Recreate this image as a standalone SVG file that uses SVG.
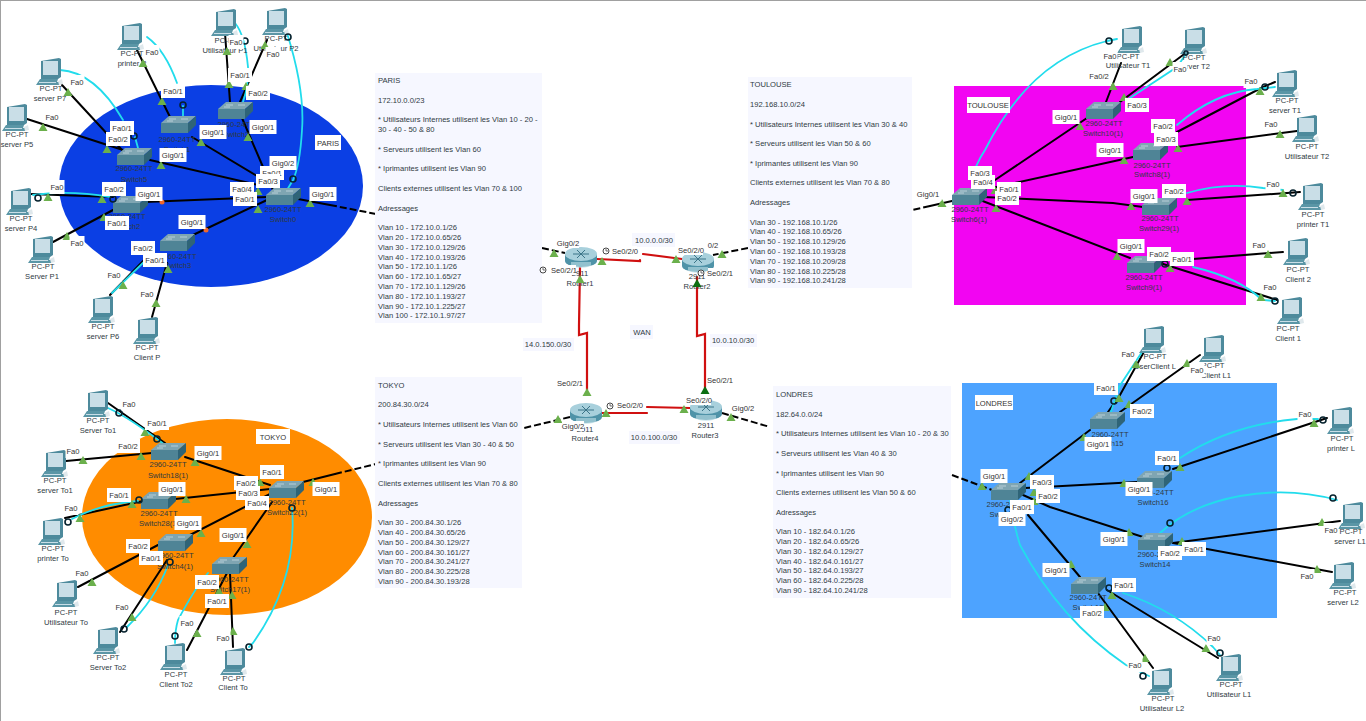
<svg xmlns="http://www.w3.org/2000/svg" width="1366" height="721" viewBox="0 0 1366 721">
<style>
text{font-family:"Liberation Sans",Arial,sans-serif;font-size:7.6px;fill:#2f3a3f}
.n text{text-anchor:middle}
.p{fill:#f6f7ff}
.k,.c,.r,.d{fill:none;stroke-linecap:round}
.k{stroke:#000;stroke-width:2}
.d{stroke:#000;stroke-width:2;stroke-dasharray:7 3;stroke-linecap:butt}
.c{stroke:#22dcec;stroke-width:1.8}
.r{stroke:#d01010;stroke-width:2.2}
.o{fill:none;stroke:#06222e;stroke-width:1.6}
.ls text{text-anchor:middle;fill:#333}
.w{fill:#fff}
</style>
<defs>
<g id="pc">
<polygon points="5,3 23,0 25,1 25,19 22,21 5,21" fill="#4d8a9c"/>
<rect x="7" y="3" width="15" height="14" fill="#c9dee7"/>
<polygon points="4,21 22,21 21,24 25,24 23,27 0,27" fill="#5a96a6"/>
<rect x="3" y="24" width="17" height="1" fill="#c9dee7"/>
<polygon points="22,23 26,21 27,26 23,27" fill="#dfe8ec"/>
</g>
<g id="sw">
<polygon points="0,7 8,0 35,0 27,7" fill="#7fa5b2"/>
<rect x="0" y="7" width="27" height="10" fill="#4f8496"/>
<polygon points="27,7 35,0 35,9 27,17" fill="#2f6477"/>
<path d="M8 3h7M20 3h7M6 5h6" stroke="#d3e2e8" stroke-width=".7" fill="none"/>
</g>
<g id="rt">
<path d="M0 7v7a16 6 0 0 0 32 0v-7z" fill="#4f93a8"/>
<ellipse cx="16" cy="7" rx="16" ry="7" fill="#a8d0dc"/>
<path d="M8 7h16M12 3l8 8M20 3l-8 8" stroke="#3b7488" stroke-width="1" fill="none"/>
<path d="M6 15h20v3a10 3 0 0 1-20 0z" fill="#bfe0e8" opacity=".6"/>
</g>
<polygon id="t" points="-4.5,4 4.5,4 0,-4" fill="#6bb04c"/>
<polygon id="td" points="-4.5,4 4.5,4 0,-4" fill="#0c6e12"/>
<g id="ck"><circle r="3" fill="#fff" stroke="#333" stroke-width=".9"/><path d="M0 -2V0H2" stroke="#333" stroke-width=".7" fill="none"/></g>
<rect id="a" class="w" x="-7.5" y="-7" width="15" height="14"/>
<rect id="b" class="w" x="-12" y="-7" width="24" height="14"/>
<rect id="g" class="w" x="-13.5" y="-7" width="27" height="14"/>
</defs>

<rect width="1366" height="721" fill="#fff"/>
<path d="M0 .5H1366M.5 0V721" stroke="#a0a0a0" fill="none"/>

<g id="areas">
<ellipse cx="211" cy="186" rx="152" ry="101" fill="#0b3fe4"/>
<ellipse cx="227" cy="517" rx="145" ry="98" fill="#ff8c00"/>
<rect x="954" y="86" width="292" height="219" fill="#f205f2"/>
<rect x="962" y="383" width="315" height="235" fill="#4da3ff"/>
</g>

<g id="connectors">
<!-- Paris -->
<path class="k" d="M136 48L170 117M62 85L122 150M27 119L123 150M150 160L267 187M192 137L267 182M242 118L263 167L273 190"/>
<path class="k" d="M225 33L230 102M267 40L240 102M30 194L113 197M145 202L267 197M53 242L113 210M193 235L267 200M147 257L110 295M167 263L152 317"/>
<path class="k" d="M298 199L330 205"/><path class="d" d="M330 205L376 214M542 248L565 253"/>
<path class="c" d="M147 37Q165 50 177 83M183 106V116M60 70Q95 72 123 120M135 137L138 148M235 23Q245 35 248 67Q249 85 243 102M287 33Q305 90 302 130Q300 165 293 180L287 190M33 195Q70 190 110 197M147 259L112 293"/>
<!-- Tokyo -->
<path class="k" d="M108 403L165 443M66 461L120 456L152 453M185 457L270 485M65 518L143 501M175 499L270 489M190 535L272 493M233 558L272 502M78 587L158 545M167 560L120 632M227 573L187 650M230 573L233 647"/>
<path class="c" d="M108 408Q130 418 165 445M72 519Q100 504 138 501M292 508Q298 580 253 643L249 647M168 565Q155 600 127 627M208 573Q195 588 178 620Q175 630 175 643"/>
<path class="k" d="M303 482L335 474"/><path class="d" d="M335 474L376 464M570 417L520 429"/>
<!-- Toulouse -->
<path class="k" d="M995 180L1087 118M992 188L1133 157M983 197L1113 203L1143 207M980 200L1130 258M1121 63L1106 102M1120 102L1187 52M1177 132L1263 87L1275 82M1177 147L1297 131M1187 200L1287 193L1300 192M1193 259L1283 252M1160 263L1277 300"/>
<path class="c" d="M972 188V180Q975 165 985 150Q1030 60 1107 41L1117 39M1130 98L1177 67L1186 54M1177 125Q1215 92 1257 89L1275 87M1187 193Q1225 182 1263 188L1283 190M1193 267Q1240 278 1262 300L1275 301"/>
<path class="k" d="M952 201L930 206"/><path class="d" d="M930 206L912 210M748 248L713 255"/>
<!-- Londres -->
<path class="k" d="M1020 483L1090 430M1108 412L1120 395L1145 350M1120 412L1200 355M1025 488L1137 482M1173 469L1327 418M1023 495L1050 507L1143 537M1173 543L1340 521M1173 543L1207 549L1332 572M1028 515L1080 577M1107 590L1218 658M1098 593L1153 668"/>
<path class="c" d="M1111 412L1119 387L1142 352M1180 458Q1230 425 1297 419L1318 419M1160 533Q1190 505 1240 496Q1290 487 1337 500M1123 593Q1175 610 1213 647L1220 655M1010 500Q1015 530 1020 545Q1060 620 1126 665L1149 676"/>
<path class="d" d="M952 475L992 490M722 413L770 427"/>
<!-- WAN -->
<path class="r" d="M597 259L640 261V260M643 254L682 259M580 267L579 325V335L587 333V390M697 277V336L705 334V390M602 413H647M647 407L690 408"/>
</g>

<g id="panels">
<rect class="p" x="375" y="73" width="167" height="250"/>
<rect class="p" x="748" y="77" width="164" height="211"/>
<rect class="p" x="375" y="377" width="147" height="211"/>
<rect class="p" x="773" y="386" width="178" height="212"/>
<rect class="p" x="632" y="233" width="43" height="14"/>
<rect class="p" x="630" y="325" width="23" height="14"/>
<rect class="p" x="523" y="338" width="51" height="13"/>
<rect class="p" x="710" y="334" width="47" height="13"/>
<rect class="p" x="629" y="431" width="51" height="13"/>
</g>

<g id="text-paris">
<text x="378" y="83">PARIS</text><text x="378" y="103">172.10.0.0/23</text>
<text x="378" y="122">* Utilisateurs Internes utilisent les Vlan 10 - 20 -</text><text x="378" y="132">30 - 40 - 50 &amp; 80</text>
<text x="378" y="152">* Serveurs utilisent les Vlan 60</text><text x="378" y="171">* Iprimantes utilisent les Vlan 90</text>
<text x="378" y="191">Clients externes utilisent les Vlan 70 &amp; 100</text><text x="378" y="211">Adressages</text>
<text x="378" y="230">Vlan 10 - 172.10.0.1/26</text><text x="378" y="240">Vlan 20 - 172.10.0.65/26</text>
<text x="378" y="250">Vlan 30 - 172.10.0.129/26</text><text x="378" y="260">Vlan 40 - 172.10.0.193/26</text>
<text x="378" y="269">Vlan 50 - 172.10.1.1/26</text><text x="378" y="279">Vlan 60 - 172.10.1.65/27</text>
<text x="378" y="289">Vlan 70 - 172.10.1.129/26</text><text x="378" y="299">Vlan 80 - 172.10.1.193/27</text>
<text x="378" y="309">Vlan 90 - 172.10.1.225/27</text><text x="378" y="318">Vlan 100 - 172.10.1.97/27</text>
</g>
<g id="text-toulouse">
<text x="750" y="87">TOULOUSE</text><text x="750" y="107">192.168.10.0/24</text>
<text x="750" y="127">* Utilisateurs Internes utilisent les Vlan 30 &amp; 40</text><text x="750" y="146">* Serveurs utilisent les Vlan 50 &amp; 60</text>
<text x="750" y="166">* Iprimantes utilisent les Vlan 90</text><text x="750" y="185">Clients externes utilisent les Vlan 70 &amp; 80</text>
<text x="750" y="205">Adressages</text>
<text x="750" y="225">Vlan 30 - 192.168.10.1/26</text><text x="750" y="234">Vlan 40 - 192.168.10.65/26</text>
<text x="750" y="244">Vlan 50 - 192.168.10.129/26</text><text x="750" y="254">Vlan 60 - 192.168.10.193/28</text>
<text x="750" y="264">Vlan 70 - 192.168.10.209/28</text><text x="750" y="274">Vlan 80 - 192.168.10.225/28</text>
<text x="750" y="283">Vlan 90 - 192.168.10.241/28</text>
</g>
<g id="text-tokyo">
<text x="378" y="388">TOKYO</text><text x="378" y="407">200.84.30.0/24</text>
<text x="378" y="427">* Utilisateurs Internes utilisent les Vlan 60</text><text x="378" y="447">* Serveurs utilisent les Vlan 30 - 40 &amp; 50</text>
<text x="378" y="466">* Iprimantes utilisent les Vlan 90</text><text x="378" y="486">Clients externes utilisent les Vlan 70 &amp; 80</text>
<text x="378" y="506">Adressages</text>
<text x="378" y="525">Vlan 30 - 200.84.30.1/26</text><text x="378" y="535">Vlan 40 - 200.84.30.65/26</text>
<text x="378" y="545">Vlan 50 - 200.84.30.129/27</text><text x="378" y="555">Vlan 60 - 200.84.30.161/27</text>
<text x="378" y="564">Vlan 70 - 200.84.30.241/27</text><text x="378" y="574">Vlan 80 - 200.84.30.225/28</text>
<text x="378" y="584">Vlan 90 - 200.84.30.193/28</text>
</g>
<g id="text-londres">
<text x="776" y="397">LONDRES</text><text x="776" y="417">182.64.0.0/24</text>
<text x="776" y="436">* Utilisateurs Internes utilisent les Vlan 10 - 20 &amp; 30</text><text x="776" y="456">* Serveurs utilisent les Vlan 40 &amp; 30</text>
<text x="776" y="476">* Iprimantes utilisent les Vlan 90</text><text x="776" y="495">Clients externes utilisent les Vlan 50 &amp; 60</text>
<text x="776" y="515">Adressages</text>
<text x="776" y="534">Vlan 10 - 182.64.0.1/26</text><text x="776" y="544">Vlan 20 - 182.64.0.65/26</text>
<text x="776" y="554">Vlan 30 - 182.64.0.129/27</text><text x="776" y="564">Vlan 40 - 182.64.0.161/27</text>
<text x="776" y="573">Vlan 50 - 182.64.0.193/27</text><text x="776" y="583">Vlan 60 - 182.64.0.225/28</text>
<text x="776" y="593">Vlan 90 - 182.64.10.241/28</text>
</g>
<g id="text-wan" class="n">
<text x="654" y="243">10.0.0.0/30</text><text x="642" y="335">WAN</text><text x="548" y="347">14.0.150.0/30</text><text x="733" y="343">10.0.10.0/30</text><text x="654" y="440">10.0.100.0/30</text>
</g>

<g id="nodes" class="n">
<!-- Paris -->
<g id="printer-p"><use href="#pc" x="117" y="23"/><text x="132" y="56">PC-PT</text><text x="132" y="66">printer P</text></g>
<g id="server-p7"><use href="#pc" x="36" y="58"/><text x="51" y="91">PC-PT</text><text x="50" y="101">server P7</text></g>
<g id="server-p5"><use href="#pc" x="2" y="104"/><text x="17" y="137">PC-PT</text><text x="17" y="147">server P5</text></g>
<g id="server-p4"><use href="#pc" x="6" y="188"/><text x="21" y="221">PC-PT</text><text x="21" y="231">server P4</text></g>
<g id="server-p1"><use href="#pc" x="28" y="236"/><text x="43" y="269">PC-PT</text><text x="42" y="279">Server P1</text></g>
<g id="server-p6"><use href="#pc" x="88" y="296"/><text x="103" y="329">PC-PT</text><text x="103" y="339">server P6</text></g>
<g id="client-p"><use href="#pc" x="133" y="317"/><text x="147" y="350">PC-PT</text><text x="147" y="360">Client P</text></g>
<g id="utilisateur-p1"><use href="#pc" x="211" y="9"/><text x="226" y="43">PC-PT</text><text x="225" y="53">Utilisateur P1</text></g>
<g id="utilisateur-p2"><use href="#pc" x="262" y="8"/><text x="276" y="41">PC-PT</text><text x="276" y="51">Utilisateur P2</text></g>
<g id="switch1"><use href="#sw" x="161" y="116"/><text x="177" y="142">2960-24TT</text><text x="177" y="152">Switch1</text></g>
<g id="switch7"><use href="#sw" x="218" y="102"/><text x="236" y="127">2960-24TT</text><text x="236" y="137">Switch2</text></g>
<g id="switch5"><use href="#sw" x="117" y="148"/><text x="134" y="171">2960-24TT</text><text x="134" y="182">Switch5</text></g>
<g id="switch2"><use href="#sw" x="113" y="196"/><text x="127" y="219">2960-24TT</text><text x="127" y="229">Switch2</text></g>
<g id="switch3"><use href="#sw" x="160" y="234"/><text x="178" y="259">2960-24TT</text><text x="178" y="268">Switch3</text></g>
<g id="switch0"><use href="#sw" x="266" y="188"/><text x="283" y="212">2960-24TT</text><text x="283" y="222">Switch0</text></g>
<!-- Toulouse -->
<g id="utilisateur-t1"><use href="#pc" x="1117" y="26"/><text x="1128" y="59">PC-PT</text><text x="1128" y="68">Utilisateur T1</text></g>
<g id="server-t2"><use href="#pc" x="1180" y="27"/><text x="1194" y="60">PC-PT</text><text x="1194" y="69">server T2</text></g>
<g id="server-t1"><use href="#pc" x="1272" y="70"/><text x="1287" y="103">PC-PT</text><text x="1285" y="113">server T1</text></g>
<g id="utilisateur-t2"><use href="#pc" x="1292" y="115"/><text x="1307" y="149">PC-PT</text><text x="1307" y="159">Utilisateur T2</text></g>
<g id="printer-t1"><use href="#pc" x="1298" y="183"/><text x="1313" y="217">PC-PT</text><text x="1313" y="227">printer T1</text></g>
<g id="client-2"><use href="#pc" x="1283" y="238"/><text x="1298" y="272">PC-PT</text><text x="1298" y="282">Client 2</text></g>
<g id="client-1"><use href="#pc" x="1277" y="297"/><text x="1288" y="331">PC-PT</text><text x="1288" y="341">Client 1</text></g>
<g id="switch6-1"><use href="#sw" x="952" y="188"/><text x="970" y="212">2960-24TT</text><text x="969" y="222">Switch6(1)</text></g>
<g id="switch10-1"><use href="#sw" x="1086" y="102"/><text x="1104" y="126">2960-24TT</text><text x="1103" y="136">Switch10(1)</text></g>
<g id="switch8-1"><use href="#sw" x="1133" y="143"/><text x="1152" y="168">2960-24TT</text><text x="1152" y="177">Switch8(1)</text></g>
<g id="switch29-1"><use href="#sw" x="1142" y="198"/><text x="1160" y="221">2960-24TT</text><text x="1159" y="231">Switch29(1)</text></g>
<g id="switch9-1"><use href="#sw" x="1127" y="256"/><text x="1144" y="280">2960-24TT</text><text x="1144" y="290">Switch9(1)</text></g>
<!-- Routers -->
<g id="router1"><use href="#rt" x="565" y="247"/><text x="580" y="276">2911</text><text x="580" y="286">Router1</text></g>
<g id="router2"><use href="#rt" x="682" y="252"/><text x="697" y="279">2911</text><text x="697" y="289">Router2</text></g>
<g id="router4"><use href="#rt" x="570" y="403"/><text x="585" y="432">2911</text><text x="585" y="441">Router4</text></g>
<g id="router3"><use href="#rt" x="690" y="400"/><text x="706" y="428">2911</text><text x="705" y="438">Router3</text></g>
<!-- Tokyo -->
<g id="server-to1"><use href="#pc" x="83" y="390"/><text x="98" y="423">PC-PT</text><text x="98" y="433">Server To1</text></g>
<g id="server-to1b"><use href="#pc" x="41" y="450"/><text x="55" y="483">PC-PT</text><text x="55" y="493">server To1</text></g>
<g id="printer-to"><use href="#pc" x="38" y="518"/><text x="53" y="551">PC-PT</text><text x="53" y="561">printer To</text></g>
<g id="utilisateur-to"><use href="#pc" x="52" y="580"/><text x="66" y="615">PC-PT</text><text x="66" y="625">Utilisateur To</text></g>
<g id="server-to2"><use href="#pc" x="93" y="627"/><text x="108" y="660">PC-PT</text><text x="108" y="670">Server To2</text></g>
<g id="client-to2"><use href="#pc" x="160" y="643"/><text x="176" y="677">PC-PT</text><text x="176" y="687">Client To2</text></g>
<g id="client-to"><use href="#pc" x="220" y="648"/><text x="234" y="681">PC-PT</text><text x="233" y="690">Client To</text></g>
<g id="switch18-1"><use href="#sw" x="151" y="443"/><text x="168" y="467">2960-24TT</text><text x="168" y="478">Switch18(1)</text></g>
<g id="switch28"><use href="#sw" x="141" y="492"/><text x="159" y="516">2960-24TT</text><text x="159" y="526">Switch28(1)</text></g>
<g id="switch4-1"><use href="#sw" x="158" y="534"/><text x="175" y="558">2960-24TT</text><text x="175" y="569">Switch4(1)</text></g>
<g id="switch17-1"><use href="#sw" x="212" y="557"/><text x="230" y="582">2960-24TT</text><text x="230" y="592">Switch17(1)</text></g>
<g id="switch22-1"><use href="#sw" x="269" y="481"/><text x="287" y="505">2960-24TT</text><text x="287" y="515">Switch22(1)</text></g>
<!-- Londres -->
<g id="userclient-l"><use href="#pc" x="1139" y="326"/><text x="1155" y="359">PC-PT</text><text x="1155" y="369">UserClient L</text></g>
<g id="client-l1"><use href="#pc" x="1199" y="335"/><text x="1213" y="368">PC-PT</text><text x="1216" y="378">Client L1</text></g>
<g id="printer-l"><use href="#pc" x="1327" y="407"/><text x="1342" y="441">PC-PT</text><text x="1341" y="451">printer L</text></g>
<g id="server-l1"><use href="#pc" x="1338" y="502"/><text x="1351" y="534">PC-PT</text><text x="1350" y="544">server L1</text></g>
<g id="server-l2"><use href="#pc" x="1329" y="562"/><text x="1345" y="595">PC-PT</text><text x="1343" y="605">server L2</text></g>
<g id="utilisateur-l1"><use href="#pc" x="1216" y="654"/><text x="1231" y="687">PC-PT</text><text x="1229" y="697">Utilisateur L1</text></g>
<g id="utilisateur-l2"><use href="#pc" x="1147" y="668"/><text x="1163" y="701">PC-PT</text><text x="1162" y="711">Utilisateur L2</text></g>
<g id="switch12"><use href="#sw" x="991" y="483"/><text x="1005" y="507">2960-24TT</text><text x="1005" y="517">Switch12</text></g>
<g id="switch15"><use href="#sw" x="1090" y="412"/><text x="1110" y="437">2960-24TT</text><text x="1108" y="446">Switch15</text></g>
<g id="switch16"><use href="#sw" x="1137" y="471"/><text x="1155" y="495">2960-24TT</text><text x="1153" y="505">Switch16</text></g>
<g id="switch14"><use href="#sw" x="1138" y="533"/><text x="1156" y="557">2960-24TT</text><text x="1155" y="567">Switch14</text></g>
<g id="switch13"><use href="#sw" x="1071" y="577"/><text x="1088" y="600">2960-24TT</text><text x="1088" y="610">Switch13</text></g>
</g>

<g id="link-lights">
<circle cx="162" cy="202" r="2.5" fill="#f0672b"/><circle cx="206" cy="230" r="2.5" fill="#f0672b"/>
<g class="o">
<circle cx="183" cy="105" r="3"/><circle cx="134" cy="136" r="3"/><circle cx="245" cy="41" r="3"/><circle cx="288" cy="37" r="3"/><circle cx="293" cy="179" r="3"/><circle cx="38" cy="198" r="3"/><circle cx="113" cy="199" r="3"/>
<circle cx="119" cy="413" r="3"/><circle cx="157" cy="439" r="3"/><circle cx="68" cy="522" r="3"/><circle cx="139" cy="500" r="3"/><circle cx="292" cy="508" r="3"/><circle cx="249" cy="647" r="3"/><circle cx="170" cy="562" r="3"/><circle cx="124" cy="629" r="3"/><circle cx="175" cy="636" r="3"/>
<circle cx="1109" cy="41" r="3"/><circle cx="1186" cy="53" r="2"/><circle cx="1265" cy="87" r="3"/><circle cx="1293" cy="193" r="3"/><circle cx="1165" cy="264" r="3"/><circle cx="1275" cy="301" r="3"/>
<circle cx="1114" cy="401" r="3"/><circle cx="1167" cy="468" r="3"/><circle cx="1323" cy="420" r="3"/><circle cx="1170" cy="523" r="3"/><circle cx="1333" cy="498" r="3"/><circle cx="1109" cy="588" r="3"/><circle cx="1220" cy="653" r="3"/><circle cx="1143" cy="676" r="3"/><circle cx="1008" cy="510" r="3"/>
</g>
</g>

<g id="port-markers">
<use href="#t" x="143" y="63"/><use href="#t" x="162" y="101"/><use href="#t" x="68" y="92"/><use href="#t" x="107" y="149"/><use href="#t" x="43" y="127"/><use href="#t" x="161" y="165"/><use href="#t" x="201" y="142"/><use href="#t" x="248" y="137"/><use href="#t" x="227" y="51"/><use href="#t" x="229" y="84"/><use href="#t" x="246" y="86"/><use href="#t" x="265" y="45"/><use href="#t" x="258" y="191"/><use href="#t" x="48" y="197"/><use href="#t" x="102" y="199"/><use href="#t" x="104" y="217"/><use href="#t" x="67" y="236"/><use href="#t" x="258" y="209"/><use href="#t" x="310" y="203"/><use href="#t" x="123" y="285"/><use href="#t" x="156" y="303"/><use href="#t" x="168" y="269"/>
<use href="#t" x="1113" y="86"/><use href="#t" x="1124" y="97"/><use href="#t" x="1170" y="62"/><use href="#t" x="1080" y="126"/><use href="#t" x="1260" y="91"/><use href="#t" x="1178" y="148"/><use href="#t" x="1124" y="160"/><use href="#t" x="1280" y="134"/><use href="#t" x="995" y="190"/><use href="#t" x="996" y="208"/><use href="#t" x="942" y="203"/><use href="#t" x="1131" y="206"/><use href="#t" x="1187" y="201"/><use href="#t" x="1283" y="193"/><use href="#t" x="1117" y="256"/><use href="#t" x="1170" y="268"/><use href="#t" x="1268" y="254"/><use href="#t" x="1261" y="297"/>
<use href="#t" x="554" y="253"/><use href="#t" x="602" y="261"/><use href="#t" x="580" y="279"/><use href="#t" x="676" y="259"/><use href="#t" x="722" y="254"/><use href="#td" x="697" y="283"/><use href="#t" x="587" y="392"/><use href="#td" x="705" y="390"/><use href="#t" x="558" y="419"/><use href="#t" x="606" y="413"/><use href="#t" x="684" y="409"/><use href="#t" x="731" y="417"/>
<use href="#t" x="145" y="432"/><use href="#t" x="83" y="460"/><use href="#t" x="141" y="456"/><use href="#t" x="195" y="462"/><use href="#t" x="260" y="482"/><use href="#t" x="313" y="482"/><use href="#t" x="132" y="504"/><use href="#t" x="80" y="518"/><use href="#t" x="186" y="499"/><use href="#t" x="201" y="533"/><use href="#t" x="92" y="582"/><use href="#t" x="247" y="544"/><use href="#t" x="132" y="617"/><use href="#t" x="197" y="633"/><use href="#t" x="233" y="631"/><use href="#t" x="219" y="591"/><use href="#t" x="232" y="595"/>
<use href="#t" x="1136" y="364"/><use href="#t" x="1187" y="363"/><use href="#t" x="1119" y="398"/><use href="#t" x="1129" y="404"/><use href="#t" x="1084" y="437"/><use href="#t" x="1314" y="423"/><use href="#t" x="1180" y="467"/><use href="#t" x="1124" y="483"/><use href="#t" x="1029" y="476"/><use href="#t" x="1034" y="492"/><use href="#t" x="982" y="486"/><use href="#t" x="1034" y="501"/><use href="#t" x="1322" y="522"/><use href="#t" x="1182" y="541"/><use href="#t" x="1129" y="532"/><use href="#t" x="1317" y="569"/><use href="#t" x="1071" y="564"/><use href="#t" x="1112" y="595"/><use href="#t" x="1105" y="607"/><use href="#t" x="1206" y="648"/><use href="#t" x="1145" y="658"/>
</g>

<g id="labels" class="ls">
<!-- Paris -->
<g transform="translate(152 52)"><use href="#a"/><text y="3">Fa0</text></g>
<g transform="translate(77 82)"><use href="#a"/><text y="3">Fa0</text></g>
<g transform="translate(52 117)"><use href="#a"/><text y="3">Fa0</text></g>
<g transform="translate(57 187)"><use href="#a"/><text y="3">Fa0</text></g>
<g transform="translate(77 243)"><use href="#a"/><text y="3">Fa0</text></g>
<g transform="translate(114 275)"><use href="#a"/><text y="3">Fa0</text></g>
<g transform="translate(147 294)"><use href="#a"/><text y="3">Fa0</text></g>
<g transform="translate(236 42)"><use href="#a"/><text y="3">Fa0</text></g>
<g transform="translate(273 54)"><use href="#a"/><text y="3">Fa0</text></g>
<g transform="translate(173 91)"><use href="#b"/><text y="3">Fa0/1</text></g>
<g transform="translate(240 75)"><use href="#b"/><text y="3">Fa0/1</text></g>
<g transform="translate(258 93)"><use href="#b"/><text y="3">Fa0/2</text></g>
<g transform="translate(122 128)"><use href="#b"/><text y="3">Fa0/1</text></g>
<g transform="translate(118 139)"><use href="#b"/><text y="3">Fa0/2</text></g>
<g transform="translate(213 132)"><use href="#g"/><text y="3">Gig0/1</text></g>
<g transform="translate(263 127)"><use href="#g"/><text y="3">Gig0/1</text></g>
<g transform="translate(173 155)"><use href="#g"/><text y="3">Gig0/1</text></g>
<g transform="translate(272 173)"><use href="#b"/><text y="3">Fa0/1</text></g>
<g transform="translate(283 163)"><use href="#g"/><text y="3">Gig0/2</text></g>
<g transform="translate(268 181)"><use href="#b"/><text y="3">Fa0/3</text></g>
<g transform="translate(245 199)"><use href="#b"/><text y="3">Fa0/1</text></g>
<g transform="translate(242 189)"><use href="#b"/><text y="3">Fa0/4</text></g>
<g transform="translate(323 194)"><use href="#g"/><text y="3">Gig0/1</text></g>
<g transform="translate(149 194)"><use href="#g"/><text y="3">Gig0/1</text></g>
<g transform="translate(114 189)"><use href="#b"/><text y="3">Fa0/2</text></g>
<g transform="translate(117 223)"><use href="#b"/><text y="3">Fa0/1</text></g>
<g transform="translate(192 222)"><use href="#g"/><text y="3">Gig0/1</text></g>
<g transform="translate(143 248)"><use href="#b"/><text y="3">Fa0/2</text></g>
<g transform="translate(155 260)"><use href="#b"/><text y="3">Fa0/1</text></g>
<g transform="translate(328 143)"><rect class="w" x="-13" y="-8" width="26" height="15"/><text y="3">PARIS</text></g>
<!-- Toulouse -->
<g transform="translate(988 105)"><rect class="w" x="-21" y="-8" width="43" height="16"/><text y="3">TOULOUSE</text></g>
<g transform="translate(1110 56)"><use href="#a"/><text y="3">Fa0</text></g>
<g transform="translate(1099 76)"><use href="#b"/><text y="3">Fa0/2</text></g>
<g transform="translate(1137 105)"><use href="#b"/><text y="3">Fa0/3</text></g>
<g transform="translate(1066 117)"><use href="#g"/><text y="3">Gig0/1</text></g>
<g transform="translate(1180 69)"><use href="#a"/><text y="3">Fa0</text></g>
<g transform="translate(1251 81)"><use href="#a"/><text y="3">Fa0</text></g>
<g transform="translate(1271 124)"><use href="#a"/><text y="3">Fa0</text></g>
<g transform="translate(1163 126)"><use href="#b"/><text y="3">Fa0/2</text></g>
<g transform="translate(1166 139)"><use href="#b"/><text y="3">Fa0/3</text></g>
<g transform="translate(1110 150)"><use href="#g"/><text y="3">Gig0/1</text></g>
<g transform="translate(983 182)"><use href="#b"/><text y="3">Fa0/4</text></g>
<g transform="translate(980 173)"><use href="#b"/><text y="3">Fa0/3</text></g>
<g transform="translate(1007 198)"><use href="#b"/><text y="3">Fa0/2</text></g>
<g transform="translate(1009 189)"><use href="#b"/><text y="3">Fa0/1</text></g>
<g transform="translate(928 194)"><use href="#g"/><text y="3">Gig0/1</text></g>
<g transform="translate(1144 196)"><use href="#g"/><text y="3">Gig0/1</text></g>
<g transform="translate(1174 191)"><use href="#b"/><text y="3">Fa0/2</text></g>
<g transform="translate(1273 184)"><use href="#a"/><text y="3">Fa0</text></g>
<g transform="translate(1131 246)"><use href="#g"/><text y="3">Gig0/1</text></g>
<g transform="translate(1159 254)"><use href="#b"/><text y="3">Fa0/2</text></g>
<g transform="translate(1182 259)"><use href="#b"/><text y="3">Fa0/1</text></g>
<g transform="translate(1259 245)"><use href="#a"/><text y="3">Fa0</text></g>
<g transform="translate(1270 287)"><use href="#a"/><text y="3">Fa0</text></g>
<!-- WAN ports -->
<g transform="translate(568 243)"><rect class="w" x="-11" y="-5" width="22" height="10"/><text y="3">Gig0/2</text></g>
<g transform="translate(625 251)"><rect class="w" x="-12" y="-5" width="24" height="10"/><text y="3">Se0/2/0</text></g>
<use href="#ck" x="606" y="251"/>
<g transform="translate(564 270)"><rect class="w" x="-12" y="-5" width="24" height="10"/><text y="3">Se0/2/1</text></g>
<use href="#ck" x="543" y="270"/>
<g transform="translate(691 250)"><rect class="w" x="-12" y="-5" width="24" height="10"/><text y="3">Se0/2/0</text></g>
<text x="713" y="248">0/2</text>
<g transform="translate(720 273)"><rect class="w" x="-12" y="-5" width="24" height="10"/><text y="3">Se0/2/1</text></g>
<use href="#ck" x="701" y="273"/>
<g transform="translate(570 383)"><rect class="w" x="-12" y="-5" width="24" height="10"/><text y="3">Se0/2/1</text></g>
<g transform="translate(573 426)"><rect class="w" x="-11" y="-5" width="22" height="10"/><text y="3">Gig0/2</text></g>
<g transform="translate(630 405)"><rect class="w" x="-12" y="-5" width="24" height="10"/><text y="3">Se0/2/0</text></g>
<use href="#ck" x="610" y="406"/>
<g transform="translate(720 380)"><rect class="w" x="-12" y="-5" width="24" height="10"/><text y="3">Se0/2/1</text></g>
<g transform="translate(699 400)"><rect class="w" x="-12" y="-5" width="24" height="10"/><text y="3">Se0/2/0</text></g>
<g transform="translate(743 408)"><rect class="w" x="-11" y="-5" width="22" height="10"/><text y="3">Gig0/2</text></g>
<!-- Tokyo -->
<g transform="translate(273 437)"><rect class="w" x="-17" y="-8" width="34" height="15"/><text y="3">TOKYO</text></g>
<g transform="translate(129 404)"><use href="#a"/><text y="3">Fa0</text></g>
<g transform="translate(157 423)"><use href="#b"/><text y="3">Fa0/1</text></g>
<g transform="translate(128 446)"><use href="#b"/><text y="3">Fa0/2</text></g>
<g transform="translate(73 451)"><use href="#a"/><text y="3">Fa0</text></g>
<g transform="translate(208 453)"><use href="#g"/><text y="3">Gig0/1</text></g>
<g transform="translate(272 472)"><use href="#b"/><text y="3">Fa0/1</text></g>
<g transform="translate(248 493)"><use href="#b"/><text y="3">Fa0/3</text></g>
<g transform="translate(246 483)"><use href="#b"/><text y="3">Fa0/2</text></g>
<g transform="translate(326 489)"><use href="#g"/><text y="3">Gig0/1</text></g>
<g transform="translate(119 495)"><use href="#b"/><text y="3">Fa0/1</text></g>
<g transform="translate(172 489)"><use href="#g"/><text y="3">Gig0/1</text></g>
<g transform="translate(71 508)"><use href="#a"/><text y="3">Fa0</text></g>
<g transform="translate(257 503)"><use href="#b"/><text y="3">Fa0/4</text></g>
<g transform="translate(188 523)"><use href="#g"/><text y="3">Gig0/1</text></g>
<g transform="translate(233 535)"><use href="#g"/><text y="3">Gig0/1</text></g>
<g transform="translate(138 546)"><use href="#b"/><text y="3">Fa0/2</text></g>
<g transform="translate(151 558)"><use href="#b"/><text y="3">Fa0/1</text></g>
<g transform="translate(82 573)"><use href="#a"/><text y="3">Fa0</text></g>
<g transform="translate(207 582)"><use href="#b"/><text y="3">Fa0/2</text></g>
<g transform="translate(217 601)"><use href="#b"/><text y="3">Fa0/1</text></g>
<g transform="translate(122 607)"><use href="#a"/><text y="3">Fa0</text></g>
<g transform="translate(187 623)"><use href="#a"/><text y="3">Fa0</text></g>
<g transform="translate(223 638)"><use href="#a"/><text y="3">Fa0</text></g>
<!-- Londres -->
<g transform="translate(994 403)"><rect class="w" x="-19" y="-8" width="38" height="15"/><text y="3">LONDRES</text></g>
<g transform="translate(1128 354)"><use href="#a"/><text y="3">Fa0</text></g>
<g transform="translate(1197 370)"><use href="#a"/><text y="3">Fa0</text></g>
<g transform="translate(1106 388)"><use href="#b"/><text y="3">Fa0/1</text></g>
<g transform="translate(1142 411)"><use href="#b"/><text y="3">Fa0/2</text></g>
<g transform="translate(1098 444)"><use href="#g"/><text y="3">Gig0/1</text></g>
<g transform="translate(1305 414)"><use href="#a"/><text y="3">Fa0</text></g>
<g transform="translate(1167 458)"><use href="#b"/><text y="3">Fa0/1</text></g>
<g transform="translate(1139 489)"><use href="#g"/><text y="3">Gig0/1</text></g>
<g transform="translate(994 476)"><use href="#g"/><text y="3">Gig0/1</text></g>
<g transform="translate(1042 482)"><use href="#b"/><text y="3">Fa0/3</text></g>
<g transform="translate(1048 496)"><use href="#b"/><text y="3">Fa0/2</text></g>
<g transform="translate(1022 507)"><use href="#b"/><text y="3">Fa0/1</text></g>
<g transform="translate(1012 519)"><use href="#g"/><text y="3">Gig0/2</text></g>
<g transform="translate(1114 539)"><use href="#g"/><text y="3">Gig0/1</text></g>
<g transform="translate(1331 530)"><use href="#a"/><text y="3">Fa0</text></g>
<g transform="translate(1194 549)"><use href="#b"/><text y="3">Fa0/1</text></g>
<g transform="translate(1170 553)"><use href="#b"/><text y="3">Fa0/2</text></g>
<g transform="translate(1307 576)"><use href="#a"/><text y="3">Fa0</text></g>
<g transform="translate(1056 570)"><use href="#g"/><text y="3">Gig0/1</text></g>
<g transform="translate(1124 585)"><use href="#b"/><text y="3">Fa0/1</text></g>
<g transform="translate(1092 613)"><use href="#b"/><text y="3">Fa0/2</text></g>
<g transform="translate(1214 638)"><use href="#a"/><text y="3">Fa0</text></g>
<g transform="translate(1135 665)"><use href="#a"/><text y="3">Fa0</text></g>
</g>
</svg>
